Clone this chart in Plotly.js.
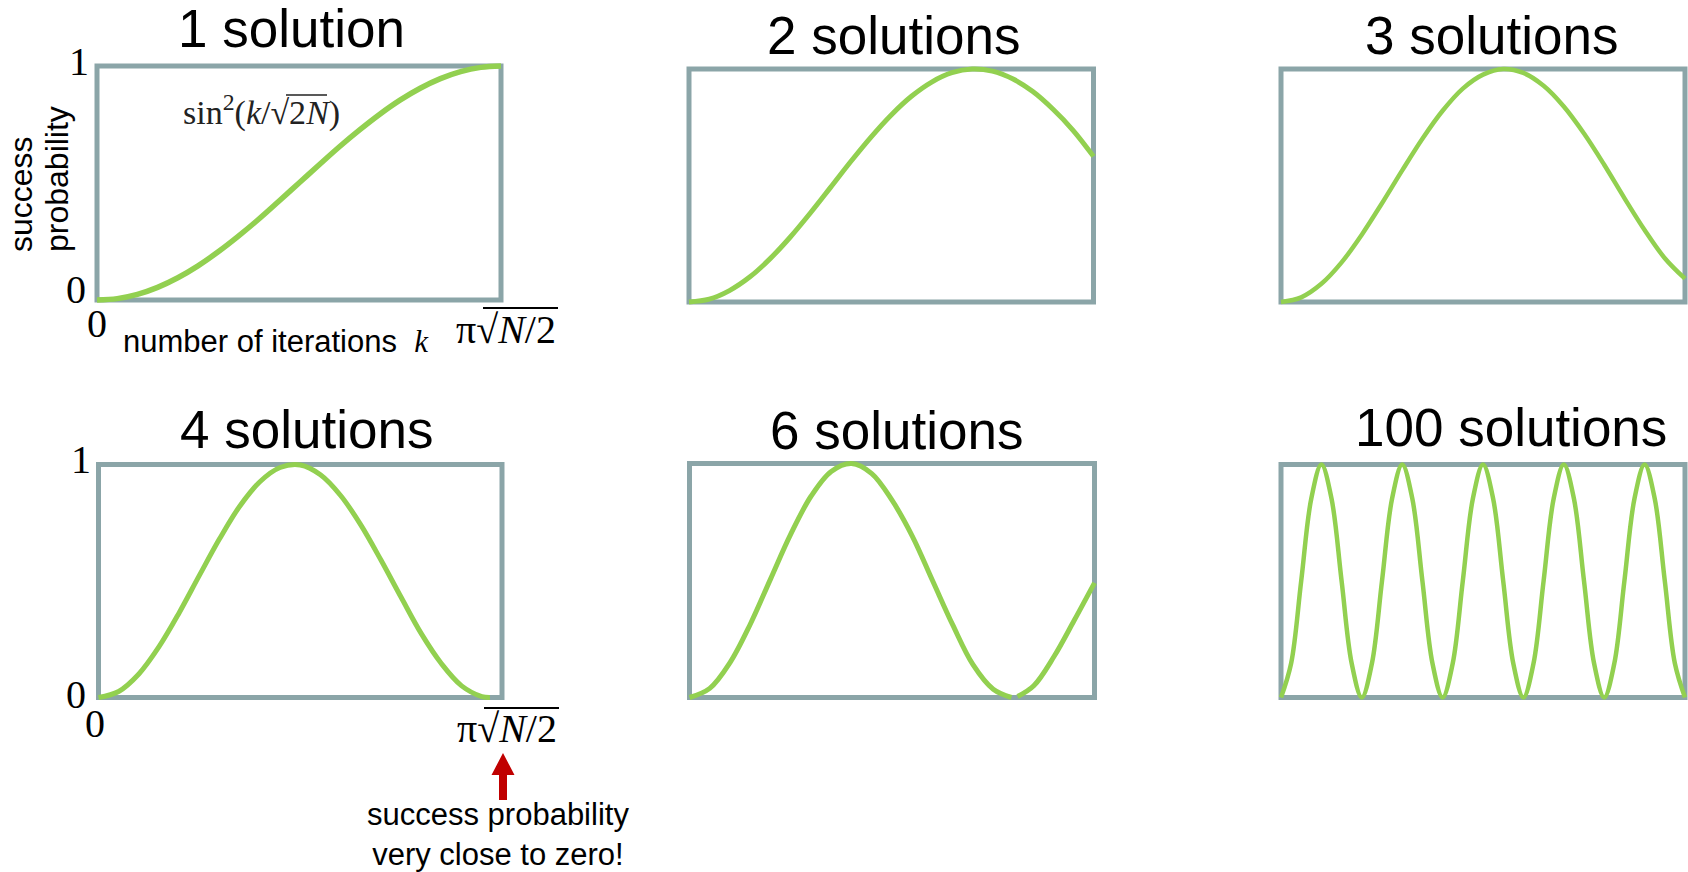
<!DOCTYPE html>
<html>
<head>
<meta charset="utf-8">
<script src="https://cdn.plot.ly/plotly-3.0.1.min.js"></script>
<style>
  html, body { margin: 0; padding: 0; background: #ffffff; }
  #chart { width: 1688px; height: 872px; }
</style>
</head>
<body>
<div id="chart"></div>
<script>
// ---------------- data ----------------
const panelTitles = ["1 solution", "2 solutions", "3 solutions", "4 solutions", "6 solutions", "100 solutions"];
const yTickLabels = ["0", "1"];
const xTickLabels = ["0", "π√<i>N</i>/2"];
const xAxisLabel = "number of iterations&nbsp; <span style=\"font-family:'Liberation Serif',serif;font-style:italic\">k</span>";
const yAxisLabel = ["success", "probability"];
const formulaLabel = "sin<sup>2</sup>(<i>k</i>/√2<i>N</i>)";
const noteLabel = "success probability<br>very close to zero!";

// iterations as fraction of π√(N/2)
const kFrac = [0, 0.05, 0.1, 0.15, 0.2, 0.25, 0.3, 0.35, 0.4, 0.45, 0.5,
               0.55, 0.6, 0.65, 0.7, 0.75, 0.8, 0.85, 0.9, 0.95, 1];
const prob1 = [0, 0.006, 0.024, 0.054, 0.095, 0.146, 0.206, 0.273, 0.345, 0.422, 0.5,
               0.578, 0.655, 0.727, 0.794, 0.854, 0.905, 0.946, 0.976, 0.994, 1];
const prob2 = [0, 0.012, 0.049, 0.107, 0.185, 0.278, 0.382, 0.492, 0.603, 0.708, 0.803,
               0.883, 0.944, 0.984, 1.0, 0.991, 0.958, 0.903, 0.827, 0.736, 0.625];
const prob3 = [0, 0.02, 0.078, 0.17, 0.289, 0.424, 0.565, 0.701, 0.821, 0.916, 0.976,
               1.0, 0.983, 0.928, 0.839, 0.723, 0.589, 0.446, 0.309, 0.188, 0.1];
const kFrac4 = [0, 0.05, 0.1, 0.15, 0.2, 0.25, 0.3, 0.35, 0.4, 0.45, 0.5,
                0.55, 0.6, 0.65, 0.7, 0.75, 0.8, 0.85, 0.9, 0.95, 0.97];
const prob4 = [0, 0.026, 0.101, 0.218, 0.364, 0.524, 0.681, 0.821, 0.926, 0.987, 0.998,
               0.956, 0.867, 0.741, 0.59, 0.43, 0.274, 0.145, 0.05, 0.004, 0];
const kFrac6 = [0, 0.05, 0.1, 0.15, 0.2, 0.25, 0.3, 0.35, 0.4, 0.45, 0.5,
                0.55, 0.6, 0.65, 0.7, 0.75, 0.795, 0.8, 0.81, 0.85, 0.9, 0.95, 1];
const prob6 = [0, 0.039, 0.149, 0.313, 0.506, 0.698, 0.86, 0.966, 1.0, 0.957, 0.843,
               0.69, 0.5, 0.31, 0.14, 0.035, 0, null, 0.004, 0.05, 0.175, 0.33, 0.49];
const kFrac100 = [0, 0.025, 0.05, 0.075, 0.1, 0.125, 0.15, 0.175, 0.2, 0.225, 0.25,
                  0.275, 0.3, 0.325, 0.35, 0.375, 0.4, 0.425, 0.45, 0.475, 0.5,
                  0.525, 0.55, 0.575, 0.6, 0.625, 0.65, 0.675, 0.7, 0.725, 0.75,
                  0.775, 0.8, 0.825, 0.85, 0.875, 0.9, 0.925, 0.95, 0.975, 1];
const prob100 = [0, 0.146, 0.5, 0.854, 1, 0.854, 0.5, 0.146, 0, 0.146, 0.5,
                 0.854, 1, 0.854, 0.5, 0.146, 0, 0.146, 0.5, 0.854, 1,
                 0.854, 0.5, 0.146, 0, 0.146, 0.5, 0.854, 1, 0.854, 0.5,
                 0.146, 0, 0.146, 0.5, 0.854, 1, 0.854, 0.5, 0.146, 0];

const seriesX = [kFrac, kFrac, kFrac, kFrac4, kFrac6, kFrac100];
const seriesY = [prob1, prob2, prob3, prob4, prob6, prob100];

// ---------------- layout geometry (pixels) ----------------
const W = 1688, H = 872;
const frames = [
  {L: 97,   R: 501,    T: 66,    B: 300},
  {L: 689,  R: 1093.5, T: 69,    B: 302},
  {L: 1281, R: 1685,   T: 69,    B: 302},
  {L: 98.5, R: 502,    T: 464.5, B: 697.5},
  {L: 689.5,R: 1094.5, T: 463.5, B: 697.5},
  {L: 1281, R: 1685,   T: 464.5, B: 697.5}
];
const titlePos = [[291, 29], [893, 35], [1491, 35], [306, 429], [897, 431], [1511, 427]];
const lineWidths = [5.5, 5, 4.5, 5, 5, 4.5];
const PAD = 10;
const GREEN = "#92d050", GRAY = "#8ba5a8";
const SANS = "'Liberation Sans', Arial, Helvetica, sans-serif";
const SERIF = "'Liberation Serif', 'Times New Roman', serif";

const px = x => x / W;
const py = y => 1 - y / H;

const layout = {
  width: W, height: H,
  margin: {l: 0, r: 0, t: 0, b: 0, pad: 0},
  paper_bgcolor: "#ffffff", plot_bgcolor: "rgba(0,0,0,0)",
  showlegend: false,
  shapes: [], annotations: []
};
const traces = [];

frames.forEach((f, i) => {
  const n = i + 1;
  const lp = Math.max(0, f.L - PAD), rp = Math.min(W, f.R + PAD);
  const tp = Math.max(0, f.T - PAD), bp = Math.min(H, f.B + PAD);
  const fw = f.R - f.L, fh = f.B - f.T;
  const xa = {
    domain: [lp / W, rp / W],
    range: [(lp - f.L) / fw, 1 + (rp - f.R) / fw],
    visible: false, fixedrange: true
  };
  const ya = {
    domain: [1 - bp / H, 1 - tp / H],
    range: [-(bp - f.B) / fh, 1 + (f.T - tp) / fh],
    visible: false, fixedrange: true
  };
  if (n > 1) ya.anchor = "x" + n;
  if (n > 1) xa.anchor = "y" + n;
  layout["xaxis" + (n > 1 ? n : "")] = xa;
  layout["yaxis" + (n > 1 ? n : "")] = ya;
  const xr = "x" + (n > 1 ? n : ""), yr = "y" + (n > 1 ? n : "");

  layout.shapes.push({
    type: "rect", xref: xr, yref: yr, x0: 0, x1: 1, y0: 0, y1: 1,
    line: {color: GRAY, width: 5}, layer: "below", fillcolor: "rgba(0,0,0,0)"
  });

  traces.push({
    type: "scatter", mode: "lines",
    x: seriesX[i], y: seriesY[i], xaxis: xr, yaxis: yr,
    connectgaps: false,
    line: {color: GREEN, width: lineWidths[i], shape: "spline", smoothing: 1},
    hoverinfo: "skip"
  });

  layout.annotations.push({
    xref: "paper", yref: "paper", x: px(titlePos[i][0]), y: py(titlePos[i][1]),
    xanchor: "center", yanchor: "middle", showarrow: false,
    text: panelTitles[i], font: {family: SANS, size: 53, color: "#000"}
  });
});

function ann(text, x, y, opts) {
  layout.annotations.push(Object.assign({
    xref: "paper", yref: "paper", x: px(x), y: py(y),
    xanchor: "center", yanchor: "middle", showarrow: false, text: text,
    font: {family: SERIF, size: 40, color: "#000"}
  }, opts || {}));
}

// tick labels, panel 1 and panel 4
ann(yTickLabels[1], 79, 61.5);
ann(yTickLabels[0], 76, 289);
ann(xTickLabels[0], 97, 323);
ann(xTickLabels[1], 454, 329.5, {xanchor: "left"});
ann(yTickLabels[1], 81, 460);
ann(yTickLabels[0], 76, 694);
ann(xTickLabels[0], 95, 723);
ann(xTickLabels[1], 455, 728.5, {xanchor: "left"});

// axis labels
ann(xAxisLabel, 121, 342, {xanchor: "left", font: {family: SANS, size: 31, color: "#000"}});
ann(yAxisLabel[0], 21, 194, {textangle: -90, font: {family: SANS, size: 32, color: "#000"}});
ann(yAxisLabel[1], 57, 179, {textangle: -90, font: {family: SANS, size: 32, color: "#000"}});

// formula
ann(formulaLabel, 181, 111, {xanchor: "left", font: {family: SERIF, size: 34, color: "#222"}});

// note
ann(noteLabel, 498, 834, {font: {family: SANS, size: 31, color: "#000"}});

// overlines of the square roots
function hline(x0, x1, y, w, c) {
  layout.shapes.push({type: "line", xref: "paper", yref: "paper",
    x0: px(x0), x1: px(x1), y0: py(y), y1: py(y), line: {color: c, width: w}});
}
hline(483, 558, 308, 2, "#000");
hline(484, 559, 708, 2, "#000");
hline(286, 327, 95, 1.5, "#222");

// red arrow
const arrowPts = [[503, 753], [514.5, 775], [507, 775], [507, 800], [499, 800], [499, 775], [491.5, 775]];
layout.shapes.push({
  type: "path", xref: "paper", yref: "paper",
  path: "M " + arrowPts.map(p => px(p[0]) + "," + py(p[1])).join(" L ") + " Z",
  fillcolor: "#c00000", line: {width: 0, color: "#c00000"}
});

Plotly.newPlot("chart", traces, layout, {displayModeBar: false, staticPlot: true});
</script>
</body>
</html>
